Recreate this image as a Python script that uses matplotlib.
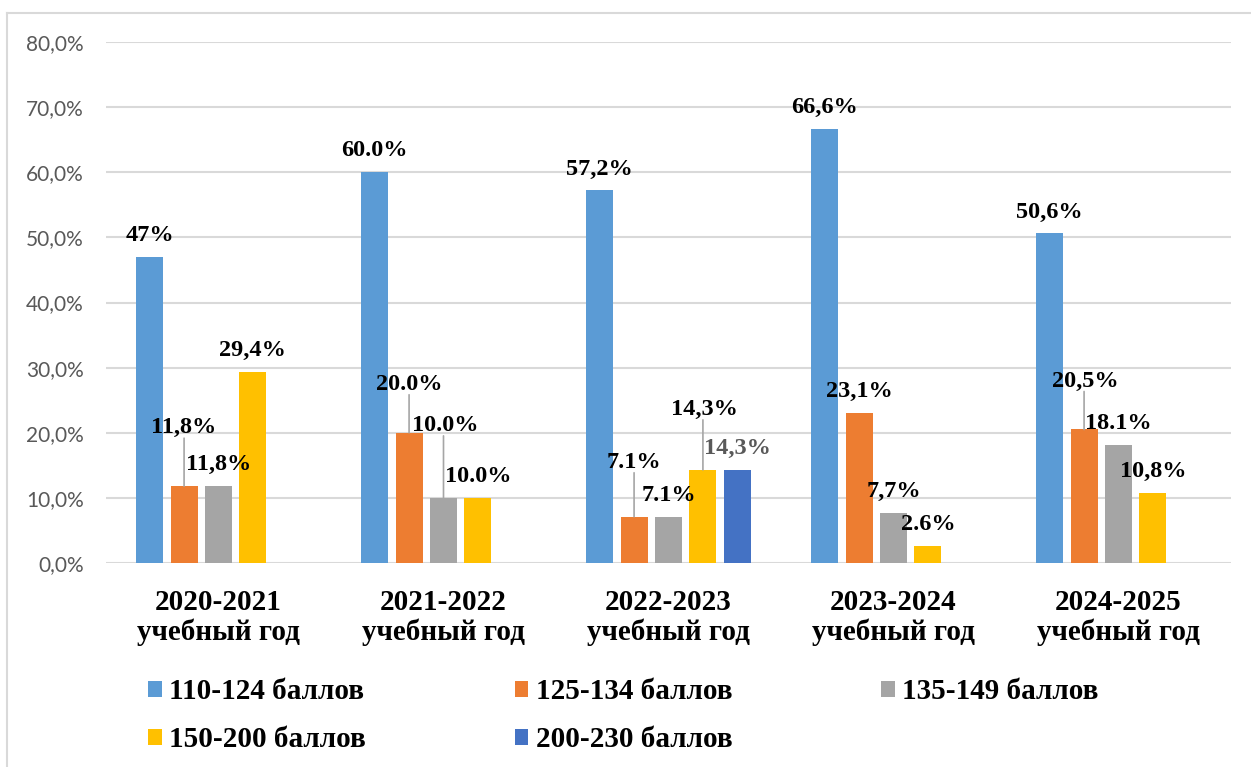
import numpy as np
import matplotlib.pyplot as plt
from matplotlib.lines import Line2D
from matplotlib.ticker import FuncFormatter

plt.rcParams["font.family"] = ["Liberation Serif", "DejaVu Serif"]

# categories and series values (percent)
years = ["2020-2021\nучебный год", "2021-2022\nучебный год", "2022-2023\nучебный год",
         "2023-2024\nучебный год", "2024-2025\nучебный год"]
series_names = ["110-124 баллов", "125-134 баллов", "135-149 баллов", "150-200 баллов", "200-230 баллов"]

s110 = [47, 60.0, 57.2, 66.6, 50.6]
s125 = [11.8, 20.0, 7.1, 23.1, 20.5]
s135 = [11.8, 10.0, 7.1, 7.7, 18.1]
s150 = [29.4, 10.0, 14.3, 2.6, 10.8]
s200 = [np.nan, np.nan, 14.3, np.nan, np.nan]

# data labels as printed on the chart
lab110 = ["47%", "60.0%", "57,2%", "66,6%", "50,6%"]
lab125 = ["11,8%", "20.0%", "7.1%", "23,1%", "20,5%"]
lab135 = ["11,8%", "10.0%", "7.1%", "7,7%", "18.1%"]
lab150 = ["29,4%", "10.0%", "14,3%", "2.6%", "10,8%"]
lab200 = ["", "", "14,3%", "", ""]

values = [s110, s125, s135, s150, s200]
labels = [lab110, lab125, lab135, lab150, lab200]
colors = ["#5B9BD5", "#ED7D31", "#A5A5A5", "#FFC000", "#4472C4"]
label_colors = ["black", "black", "black", "black", "#595959"]

# labels moved up with a leader line: (series, year) -> (dx, dy) pixels of label centre
moved = {
    (1, 0): (0, 61),
    (1, 1): (0, 51),
    (2, 1): (2, 75),
    (1, 2): (0, 57),
    (3, 2): (2, 63),
    (1, 4): (1, 51),
}

fig = plt.figure(figsize=(12.51, 7.67), dpi=100)
ax = fig.add_axes([106 / 1251, 1 - 563 / 767, 1125 / 1251, 521 / 767])

x = np.arange(len(years))
slot = 0.153
width = 0.12

handles = []
for i in range(5):
    pos = x + (i - 2) * slot
    b = ax.bar(pos, values[i], width, color=colors[i], label=series_names[i], zorder=3)
    handles.append(b)
    for j in range(len(years)):
        v = values[i][j]
        if np.isnan(v) or labels[i][j] == "":
            continue
        dx, dy = moved.get((i, j), (0, 24))
        ax.annotate(labels[i][j], xy=(pos[j], v), xytext=(dx, dy - 8),
                    textcoords="offset pixels", ha="center", va="baseline",
                    fontsize=17.5, fontweight="bold",
                    color=label_colors[i], zorder=5)
        if (i, j) in moved:
            ax.annotate("", xy=(pos[j], v), xytext=(0, dy - 13), textcoords="offset pixels",
                        arrowprops=dict(arrowstyle="-", color="#A6A6A6", lw=1.2,
                                        shrinkA=0, shrinkB=0), zorder=4)

ax.set_xlim(-0.5, 4.5)
ax.set_ylim(0, 80)
ax.set_yticks(np.arange(0, 81, 10))
ax.yaxis.set_major_formatter(FuncFormatter(lambda v, p: f"{v:.1f}%".replace(".", ",")))
ax.grid(axis="y", color="#D9D9D9", linewidth=1.5, zorder=0)
for s in ["top", "right", "left", "bottom"]:
    ax.spines[s].set_visible(False)
ax.tick_params(axis="y", length=0, pad=16, labelsize=15, labelcolor="#595959")
ax.tick_params(axis="x", length=0, pad=19)
for t in ax.get_yticklabels():
    t.set_family("Lato")

ax.set_xticks(x)
ax.set_xticklabels(years, fontsize=21, fontweight="bold", linespacing=1.12)

# legend, three columns, filled row by row
order = [0, 3, 1, 4, 2]
fig.legend([handles[k] for k in order], [series_names[k] for k in order],
           loc="upper left", bbox_to_anchor=(148 / 1251, 1 - 678 / 767), ncol=3,
           frameon=False, prop={"weight": "bold", "size": 21},
           handlelength=0.47, handleheight=0.47, handletextpad=0.25,
           columnspacing=5.1, labelspacing=0.72, borderpad=0, borderaxespad=0)

# outer chart frame
fig.add_artist(Line2D([7 / 1251, 7 / 1251], [0, 1 - 13 / 767], color="#D9D9D9", lw=1.5))
fig.add_artist(Line2D([7 / 1251, 1], [1 - 13 / 767, 1 - 13 / 767], color="#D9D9D9", lw=1.5))

fig.savefig("out.png", dpi=100)
